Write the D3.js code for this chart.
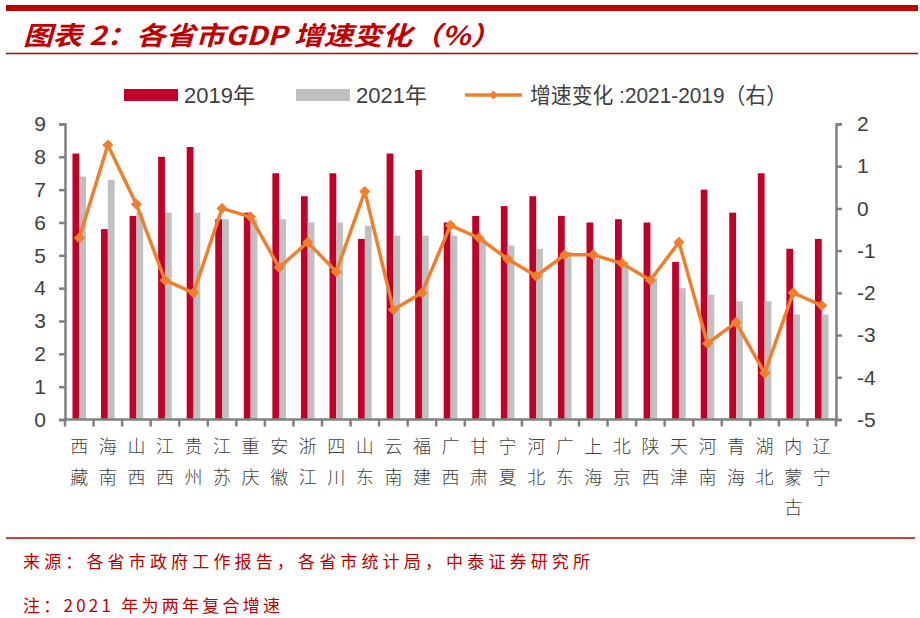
<!DOCTYPE html>
<html><head><meta charset="utf-8">
<script src="https://cdn.jsdelivr.net/npm/d3@7"></script>
<style>body{margin:0;background:#fff;}svg{display:block;}</style>
</head><body>
<svg id="c" width="920" height="618"></svg>
<script>
const provinces = ["西藏","海南","山西","江西","贵州","江苏","重庆","安徽","浙江","四川","山东","云南","福建","广西","甘肃","宁夏","河北","广东","上海","北京","陕西","天津","河南","青海","湖北","内蒙古","辽宁"];
const gdp2019 = [8.1,5.8,6.2,8.0,8.3,6.1,6.3,7.5,6.8,7.5,5.5,8.1,7.6,6.0,6.2,6.5,6.8,6.2,6.0,6.1,6.0,4.8,7.0,6.3,7.5,5.2,5.5];
const gdp2021 = [7.4,7.3,6.3,6.3,6.3,6.1,6.1,6.1,6.0,6.0,5.9,5.6,5.6,5.6,5.5,5.3,5.2,5.1,4.9,4.8,4.3,4.0,3.8,3.6,3.6,3.2,3.2];
const change = [-0.7,1.5,0.1,-1.7,-2.0,0.0,-0.2,-1.4,-0.8,-1.5,0.4,-2.4,-2.0,-0.4,-0.7,-1.2,-1.6,-1.1,-1.1,-1.3,-1.7,-0.8,-3.2,-2.7,-3.9,-2.0,-2.3];
const leftTicks = [0,1,2,3,4,5,6,7,8,9];
const rightTicks = [-5,-4,-3,-2,-1,0,1,2];
const seriesNames = ["2019年","2021年","增速变化 :2021-2019（右）"];
const titleText = "图表 2：各省市GDP 增速变化（%）";
const sourceText = "来源：各省市政府工作报告，各省市统计局，中泰证券研究所";
const noteText = "注：2021 年为两年复合增速";

const RED="#C00028", GRAY="#C0C0C0", ORANGE="#EE7F2D", AXIS="#808080", TXT="#404040", TRED="#C00000";
const latin = "'Liberation Sans', Arial, 'Noto Sans CJK SC', sans-serif";
const cjk = "'Noto Sans CJK SC', sans-serif";

const svg = d3.select("#c");
const L=65, R=836, T=124, B=419.5;

// header
svg.append("rect").attr("x",6).attr("y",5).attr("width",912).attr("height",6).attr("fill",TRED);
svg.append("text").attr("x",23).attr("y",45).text(titleText)
  .attr("fill",TRED).attr("font-family",cjk).attr("font-size",26).attr("font-weight","bold")
  .attr("font-style","italic").attr("textLength",477).attr("lengthAdjust","spacingAndGlyphs");
svg.append("line").attr("x1",6).attr("x2",918).attr("y1",53.5).attr("y2",53.5).attr("stroke",TRED).attr("stroke-width",1.5);

// scales
const x = d3.scaleBand().domain(provinces).range([L,R]).paddingInner(0).paddingOuter(0);
const yL = d3.scaleLinear().domain([0,9]).range([B,T]);
const yR = d3.scaleLinear().domain([-5,2]).range([B,T]);
const barW = 6.8;

const g = svg.append("g");
g.selectAll(".b19").data(provinces).enter().append("rect")
  .attr("x",d=>x(d)+x.bandwidth()/2-barW).attr("width",barW)
  .attr("y",(d,i)=>yL(gdp2019[i])).attr("height",(d,i)=>B-yL(gdp2019[i])).attr("fill",RED);
g.selectAll(".b21").data(provinces).enter().append("rect")
  .attr("x",d=>x(d)+x.bandwidth()/2).attr("width",barW)
  .attr("y",(d,i)=>yL(gdp2021[i])).attr("height",(d,i)=>B-yL(gdp2021[i])).attr("fill",GRAY);

// axes
function styleAxis(sel){
  sel.select(".domain").attr("stroke",AXIS).attr("stroke-width",2.5);
  sel.selectAll(".tick line").attr("stroke",AXIS).attr("stroke-width",2.5);
  sel.selectAll("text").attr("fill",TXT).attr("font-family",latin).attr("font-size",21);
}
const axL = svg.append("g").attr("transform",`translate(${L},0)`)
  .call(d3.axisLeft(yL).tickValues(leftTicks).tickSize(6).tickSizeOuter(6).tickPadding(13).tickFormat(d3.format("d")));
styleAxis(axL);
const axR = svg.append("g").attr("transform",`translate(${R},0)`)
  .call(d3.axisRight(yR).tickValues(rightTicks).tickSize(6).tickSizeOuter(6).tickPadding(15).tickFormat(d=>d<0?"-"+Math.abs(d):d));
styleAxis(axR);
axR.selectAll("text").attr("text-anchor","start");

// x axis with boundary ticks
const xb = svg.append("g");
xb.append("line").attr("x1",L-1).attr("x2",R+1).attr("y1",B).attr("y2",B).attr("stroke",AXIS).attr("stroke-width",2.5);
const bounds = provinces.map(d=>x(d)).concat([R]);
xb.selectAll(".xt").data(bounds).enter().append("line")
  .attr("x1",d=>d).attr("x2",d=>d).attr("y1",B).attr("y2",B+7).attr("stroke",AXIS).attr("stroke-width",2.5);

// x labels (vertical stacking)
provinces.forEach(p=>{
  const cx = x(p)+x.bandwidth()/2;
  Array.from(p).forEach((ch,k)=>{
    svg.append("text").attr("x",cx).attr("y",447+k*30.5).attr("dy","0.35em")
      .attr("text-anchor","middle").attr("fill",TXT).attr("font-family",cjk).attr("font-size",18).attr("font-weight",300).text(ch);
  });
});

// line series
const line = d3.line().x((d,i)=>x(provinces[i])+x.bandwidth()/2).y(d=>yR(d));
svg.append("path").datum(change).attr("d",line).attr("fill","none").attr("stroke",ORANGE).attr("stroke-width",3.5).attr("stroke-linejoin","round");
const diamond = d3.symbol().type(d3.symbolSquare).size(62);
svg.selectAll(".mk").data(change).enter().append("path")
  .attr("d",diamond).attr("fill",ORANGE)
  .attr("transform",(d,i)=>`translate(${x(provinces[i])+x.bandwidth()/2},${yR(d)}) rotate(45)`);

// legend
const lg = svg.append("g");
lg.append("rect").attr("x",124).attr("y",89).attr("width",54).attr("height",12).attr("fill",RED);
lg.append("text").attr("x",184).attr("y",95).attr("dy","0.36em").text(seriesNames[0]).attr("fill",TXT).attr("font-family",latin).attr("font-size",22);
lg.append("rect").attr("x",296).attr("y",89).attr("width",54).attr("height",12).attr("fill",GRAY);
lg.append("text").attr("x",356).attr("y",95).attr("dy","0.36em").text(seriesNames[1]).attr("fill",TXT).attr("font-family",latin).attr("font-size",22);
lg.append("line").attr("x1",465).attr("x2",522).attr("y1",95).attr("y2",95).attr("stroke",ORANGE).attr("stroke-width",3.5);
lg.append("path").attr("d",d3.symbol().type(d3.symbolSquare).size(40)).attr("fill",ORANGE).attr("transform","translate(493.5,95) rotate(45)");
lg.append("text").attr("x",530).attr("y",95).attr("dy","0.36em").text(seriesNames[2]).attr("fill",TXT).attr("font-family",latin).attr("font-size",22)
  .attr("textLength",257).attr("lengthAdjust","spacingAndGlyphs");

// footer
svg.append("line").attr("x1",6).attr("x2",915).attr("y1",538).attr("y2",538).attr("stroke",TRED).attr("stroke-width",1.3);
svg.append("text").attr("x",23).attr("y",562).attr("dy","0.36em").text(sourceText).attr("fill",TRED).attr("font-family",cjk).attr("font-size",17)
  .attr("textLength",567).attr("lengthAdjust","spacing");
svg.append("text").attr("x",23).attr("y",606).attr("dy","0.36em").text(noteText).attr("fill",TRED).attr("font-family",cjk).attr("font-size",17)
  .attr("textLength",257).attr("lengthAdjust","spacing");
</script>
</body></html>
